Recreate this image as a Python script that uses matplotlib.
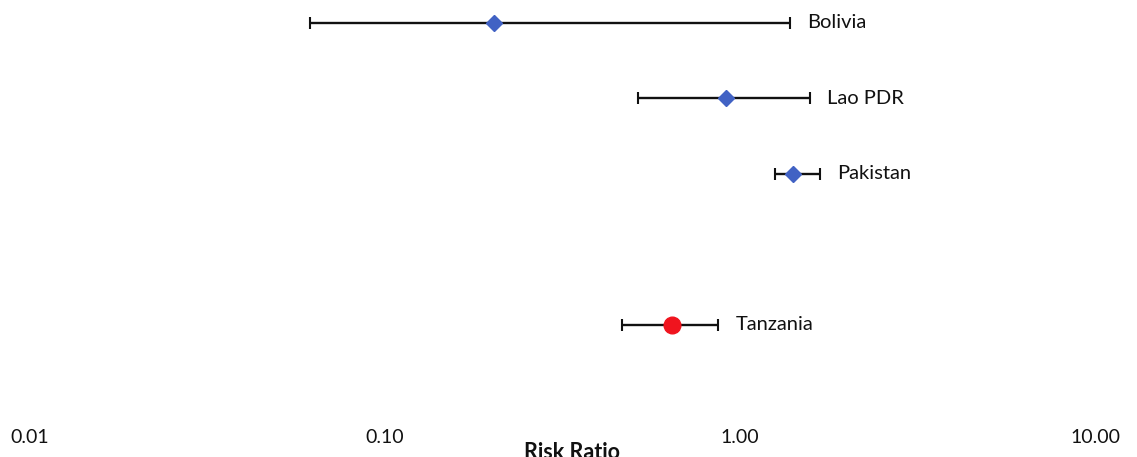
import numpy as np
import matplotlib
matplotlib.use("Agg")
import matplotlib.pyplot as plt

plt.rcParams['font.family'] = ['Lato', 'DejaVu Sans']

# Risk ratios with 95% confidence limits
countries = ["Bolivia", "Lao PDR", "Pakistan", "Tanzania"]
rr = [0.203, 0.914, 1.41, 0.643]
lower = [0.0615, 0.516, 1.255, 0.466]
upper = [1.38, 1.57, 1.68, 0.867]
rows = [5, 4, 3, 1]
tick_values = [0.01, 0.1, 1, 10]
tick_labels = ["0.01", "0.10", "1.00", "10.00"]

W, H = 1137, 457
fig = plt.figure(figsize=(W / 100, H / 100), dpi=100)
ax = fig.add_axes([0, (H - 425) / H, 1, 425 / H])
ax.set_xscale("log")

decade = 355.0
x0 = 30.0
ax.set_xlim(10 ** (-2 - x0 / decade), 10 ** (-2 + (W - x0) / decade))
ax.set_ylim((400 - 425) / 75.5, 400 / 75.5)

blue = "#4162C4"
red = "#F0141E"
for name, c, lo, hi, r in zip(countries, rr, lower, upper, rows):
    is_summary = name == "Tanzania"
    ax.errorbar([c], [r], xerr=[[c - lo], [hi - c]], fmt="none",
                ecolor="#111111", elinewidth=1.7, capsize=4.5, capthick=1.5,
                zorder=2)
    if is_summary:
        ax.plot([c], [r], marker="o", ms=12, color=red, mec=red, zorder=3)
    else:
        ax.plot([c], [r], marker="D", ms=8.5, color=blue, mec=blue, zorder=3)
    ax.annotate(name, xy=(hi, r), xytext=(12.5, 0), textcoords="offset points",
                va="center", ha="left", fontsize=14.5, color="#111111")

for s in ax.spines.values():
    s.set_visible(False)
ax.set_yticks([])
ax.set_xticks(tick_values)
ax.set_xticklabels(tick_labels, fontsize=14, color="#111111")
ax.xaxis.set_minor_locator(matplotlib.ticker.NullLocator())
ax.tick_params(axis="x", length=0, pad=3)
ax.set_xlabel("Risk Ratio", fontsize=15.5, fontweight="bold", color="#111111")
ax.xaxis.set_label_coords(572 / W, -17 / 425)

fig.savefig("out.png", dpi=100, facecolor="white")
